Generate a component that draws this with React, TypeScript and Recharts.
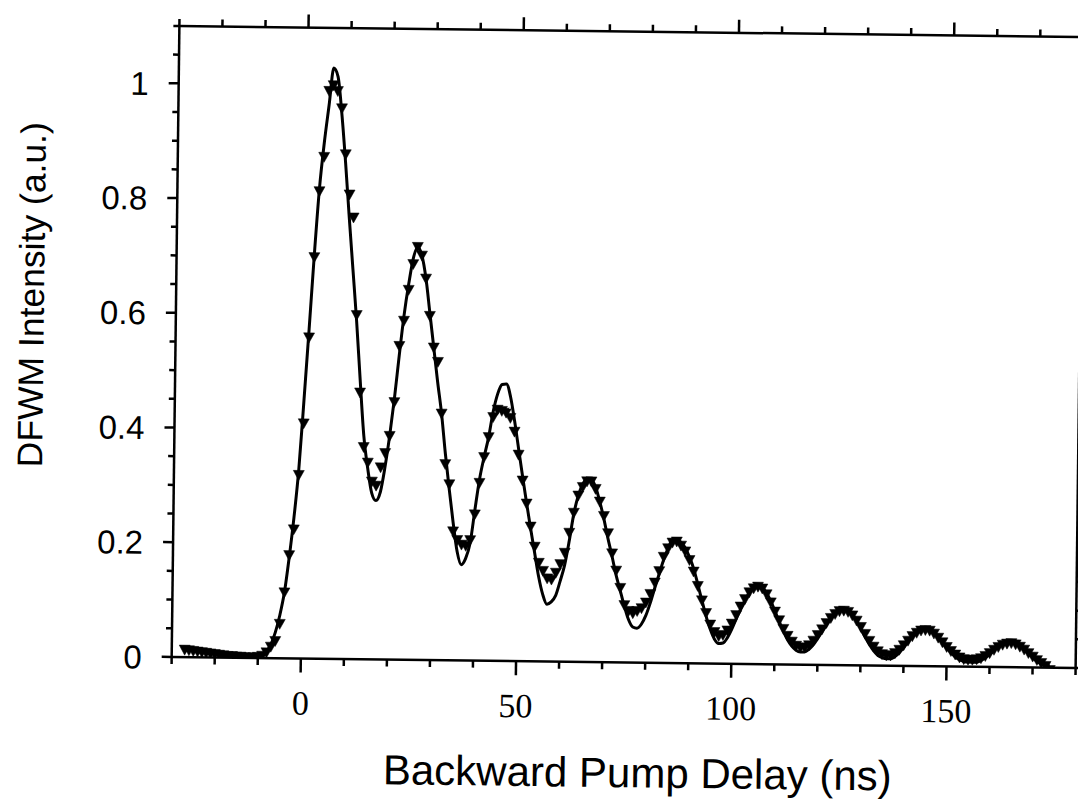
import React from 'react';
import { ComposedChart, Line, Scatter, XAxis, YAxis, Label } from 'recharts';

// ---- axis ticks ----
const X_TICKS = [-30, -20, -10, 0, 10, 20, 30, 40, 50, 60, 70, 80, 90, 100, 110, 120, 130, 140, 150, 160, 170, 180];
const X_LABELS = [0, 50, 100, 150];
const Y_TICKS = [0, 0.05, 0.1, 0.15, 0.2, 0.25, 0.3, 0.35, 0.4, 0.45, 0.5, 0.55, 0.6, 0.65, 0.7, 0.75, 0.8, 0.85, 0.9, 0.95, 1, 1.05, 1.1];
const Y_LABELS = [0, 0.2, 0.4, 0.6, 0.8, 1];

const X_TITLE = 'Backward Pump Delay (ns)';
const Y_TITLE = 'DFWM Intensity (a.u.)';

// ---- fitted curve (solid line): [delay ns, intensity] ----
const FIT: [number, number][] = [
  [-27, 0.013], [-24, 0.010], [-21, 0.007], [-18, 0.005], [-15, 0.004], [-12, 0.003], [-10, 0.003],
  [-9, 0.006], [-8, 0.012], [-7, 0.024], [-6, 0.045], [-5, 0.075], [-4, 0.115], [-3, 0.175], [-2, 0.245],
  [-1, 0.33], [0, 0.45], [1, 0.575], [2, 0.705], [3, 0.82], [4, 0.9], [5, 0.965], [6, 1.03], [7, 1.015],
  [8, 0.95], [9, 0.865], [10, 0.77], [11, 0.68], [12, 0.59], [13, 0.487], [14, 0.39], [15, 0.333],
  [16, 0.29], [17, 0.277], [18, 0.292], [19, 0.335], [20, 0.39], [21, 0.455], [22, 0.53], [23, 0.6],
  [24, 0.655], [25, 0.7], [26, 0.72], [27, 0.705], [28, 0.665], [29, 0.605], [30, 0.545], [31, 0.485],
  [32, 0.43], [33, 0.36], [34, 0.298], [35, 0.24], [36, 0.19], [37, 0.167], [38, 0.178], [39, 0.205],
  [40, 0.262], [41, 0.316], [42, 0.355], [43, 0.39], [44, 0.435], [45, 0.466], [46, 0.482], [47, 0.483],
  [48, 0.46], [49, 0.418], [50, 0.37], [51, 0.322], [52, 0.276], [53, 0.232], [54, 0.19], [55, 0.148],
  [56, 0.117], [57, 0.1], [58, 0.104], [59, 0.115], [60, 0.14], [61, 0.168], [62, 0.21], [63, 0.258],
  [64, 0.29], [65, 0.31], [66, 0.32], [67, 0.318], [68, 0.305], [69, 0.28], [70, 0.25], [71, 0.216],
  [72, 0.185], [73, 0.152], [74, 0.125], [75, 0.098], [76, 0.075], [77, 0.062], [78, 0.06], [79, 0.067],
  [80, 0.082], [81, 0.104], [82, 0.13], [83, 0.155], [84, 0.18], [85, 0.2], [86, 0.215], [87, 0.217],
  [88, 0.21], [89, 0.201], [90, 0.185], [91, 0.165], [92, 0.138], [93, 0.11], [94, 0.083], [95, 0.06],
  [96, 0.043], [97, 0.035], [98, 0.036], [99, 0.045], [100, 0.06], [101, 0.078], [102, 0.095],
  [103, 0.111], [104, 0.125], [105, 0.135], [106, 0.138], [107, 0.134], [108, 0.124], [109, 0.11],
  [110, 0.093], [111, 0.075], [112, 0.058], [113, 0.043], [114, 0.032], [115, 0.025], [116, 0.022],
  [117, 0.022], [118, 0.027], [119, 0.035], [120, 0.046], [121, 0.058], [122, 0.07], [123, 0.081],
  [124, 0.09], [125, 0.096], [126, 0.098], [127, 0.095], [128, 0.088], [129, 0.077], [130, 0.064],
  [131, 0.05], [132, 0.037], [133, 0.026], [134, 0.018], [135, 0.014], [136, 0.012], [137, 0.012],
  [138, 0.016], [139, 0.023], [140, 0.032], [141, 0.042], [142, 0.051], [143, 0.058], [144, 0.063],
  [145, 0.065], [146, 0.063], [147, 0.058], [148, 0.05], [149, 0.041], [150, 0.032], [151, 0.024],
  [152, 0.017], [153, 0.012], [154, 0.009], [155, 0.008], [156, 0.008], [157, 0.008], [158, 0.011],
  [159, 0.016], [160, 0.022], [161, 0.029], [162, 0.035], [163, 0.04], [164, 0.043], [165, 0.043],
  [166, 0.041], [167, 0.037], [168, 0.031], [169, 0.024], [170, 0.017], [171, 0.011], [172, 0.007],
  [173, 0.004], [174, 0.003],
];

// ---- measured points (down triangles): [delay ns, intensity] ----
const MEASURED: [number, number][] = [
  [-27, 0.013], [-26, 0.012], [-25, 0.011], [-24, 0.010], [-23, 0.009], [-22, 0.008], [-21, 0.007],
  [-20, 0.006], [-19, 0.005], [-18, 0.004], [-17, 0.003], [-16, 0.003], [-15, 0.002], [-14, 0.002],
  [-13, 0.001], [-12, 0.001], [-11, 0.001], [-10, 0.002], [-9, 0.004], [-8, 0.01], [-7, 0.02],
  [-6, 0.03], [-5, 0.06], [-4, 0.115], [-3, 0.18], [-2, 0.225], [-1, 0.32], [0, 0.41], [1, 0.56],
  [2, 0.7], [3, 0.815], [4, 0.875], [5, 0.99], [6, 1.0], [7, 0.99], [8, 0.96], [9, 0.88], [10, 0.81],
  [11, 0.77], [12, 0.6], [13, 0.465], [14, 0.37], [15, 0.343], [16, 0.31], [17, 0.303], [18, 0.335],
  [19, 0.36], [20, 0.39], [21, 0.449], [22, 0.547], [23, 0.591], [24, 0.645], [25, 0.69], [26, 0.72],
  [27, 0.705], [28, 0.665], [29, 0.6], [30, 0.545], [31, 0.52], [32, 0.43], [33, 0.342], [34, 0.307],
  [35, 0.225], [36, 0.21], [37, 0.202], [38, 0.2], [39, 0.21], [40, 0.255], [41, 0.31], [42, 0.355],
  [43, 0.39], [44, 0.425], [45, 0.438], [46, 0.436], [47, 0.433], [48, 0.424], [49, 0.4], [50, 0.36],
  [51, 0.315], [52, 0.275], [53, 0.235], [54, 0.2], [55, 0.172], [56, 0.158], [57, 0.145], [58, 0.143],
  [59, 0.155], [60, 0.17], [61, 0.19], [62, 0.225], [63, 0.26], [64, 0.29], [65, 0.305], [66, 0.315],
  [67, 0.315], [68, 0.302], [69, 0.28], [70, 0.255], [71, 0.225], [72, 0.19], [73, 0.16], [74, 0.13],
  [75, 0.1], [76, 0.09], [77, 0.086], [78, 0.09], [79, 0.095], [80, 0.105], [81, 0.12], [82, 0.14],
  [83, 0.16], [84, 0.185], [85, 0.2], [86, 0.21], [87, 0.212], [88, 0.205], [89, 0.195], [90, 0.18],
  [91, 0.16], [92, 0.135], [93, 0.11], [94, 0.088], [95, 0.068], [96, 0.055], [97, 0.048], [98, 0.05],
  [99, 0.058], [100, 0.07], [101, 0.085], [102, 0.1], [103, 0.113], [104, 0.125], [105, 0.132],
  [106, 0.135], [107, 0.132], [108, 0.122], [109, 0.108], [110, 0.092], [111, 0.077], [112, 0.062],
  [113, 0.05], [114, 0.04], [115, 0.033], [116, 0.03], [117, 0.03], [118, 0.034], [119, 0.042],
  [120, 0.052], [121, 0.062], [122, 0.073], [123, 0.082], [124, 0.089], [125, 0.094], [126, 0.095],
  [127, 0.093], [128, 0.087], [129, 0.078], [130, 0.067], [131, 0.055], [132, 0.043], [133, 0.033],
  [134, 0.025], [135, 0.02], [136, 0.018], [137, 0.018], [138, 0.022], [139, 0.028], [140, 0.036],
  [141, 0.044], [142, 0.052], [143, 0.058], [144, 0.062], [145, 0.063], [146, 0.062], [147, 0.057],
  [148, 0.05], [149, 0.042], [150, 0.034], [151, 0.027], [152, 0.021], [153, 0.016], [154, 0.013],
  [155, 0.012], [156, 0.012], [157, 0.013], [158, 0.015], [159, 0.019], [160, 0.024], [161, 0.03],
  [162, 0.035], [163, 0.039], [164, 0.041], [165, 0.042], [166, 0.04], [167, 0.036], [168, 0.031],
  [169, 0.025], [170, 0.019], [171, 0.013], [172, 0.008], [173, 0.003], [174, -0.004],
];

const fitData = FIT.map(([x, y]) => ({ x, y }));
const pointData = MEASURED.map(([x, y]) => ({ x, y }));

const SANS = "'Liberation Sans', Arial, Helvetica, sans-serif";
const SERIF = "'Liberation Serif', 'Times New Roman', serif";
const AXIS_STROKE = { stroke: '#000', strokeWidth: 2.5 };

const isIn = (arr: number[], v: number) => arr.some((a) => Math.abs(a - v) < 1e-9);

const BottomTick = (props: any) => {
  const { x, y, payload } = props;
  const major = isIn(X_LABELS, payload.value);
  return (
    <g>
      <line x1={x} y1={y} x2={x} y2={y + (major ? 14 : 7)} stroke="#000" strokeWidth={2.5} />
      {major && (
        <text x={x} y={y + 56} textAnchor="middle" fontFamily={SERIF} fontSize={34} fill="#000">
          {payload.value}
        </text>
      )}
    </g>
  );
};

const TopTick = (props: any) => {
  const { x, y, payload } = props;
  const major = isIn(X_LABELS, payload.value);
  return <line x1={x} y1={y} x2={x} y2={y - (major ? 13 : 7)} stroke="#000" strokeWidth={2.5} />;
};

const LeftTick = (props: any) => {
  const { x, y, payload } = props;
  const major = isIn(Y_LABELS, payload.value);
  return (
    <g>
      <line x1={x} y1={y} x2={x - (major ? 10 : 6)} y2={y} stroke="#000" strokeWidth={2.5} />
      {major && (
        <text x={x - 30} y={y} dy="0.36em" textAnchor="end" fontFamily={SANS} fontSize={33} fill="#000">
          {String(payload.value)}
        </text>
      )}
    </g>
  );
};

const RightTick = (props: any) => {
  const { x, y, payload } = props;
  const major = isIn(Y_LABELS, payload.value);
  return <line x1={x} y1={y} x2={x + (major ? 10 : 6)} y2={y} stroke="#000" strokeWidth={2.5} />;
};

const TriangleDown = (props: any) => {
  const { cx, cy } = props;
  if (cx == null || cy == null) return <g />;
  return (
    <polygon
      points={`${cx - 5.5},${cy - 4.5} ${cx + 5.5},${cy - 4.5} ${cx},${cy + 5.5}`}
      fill="#000"
      stroke="#000"
      strokeWidth={0.5}
    />
  );
};

export default function App() {
  return (
    <div style={{ width: 1078, height: 798, overflow: 'hidden' }}>
      <div
        style={{
          width: 1078,
          height: 798,
          transform: 'rotate(0.7deg)',
          transformOrigin: '619.5px 339px',
        }}
      >
        <ComposedChart
          width={1078}
          height={798}
          margin={{ top: 22.5, right: 5.5, bottom: 0, left: 0 }}
          style={{ background: '#fff' }}
        >
          <XAxis
            xAxisId="b"
            dataKey="x"
            type="number"
            domain={[-30, 180]}
            ticks={X_TICKS}
            interval={0}
            allowDataOverflow
            orientation="bottom"
            height={143.5}
            axisLine={AXIS_STROKE}
            tickLine={false}
            tickSize={0}
            tickMargin={0}
            tick={<BottomTick />}
          >
            <Label
              content={(p: any) => {
                const vb = p.viewBox || { x: 0, y: 0, width: 0 };
                return (
                  <text
                    x={vb.x + vb.width / 2 + 15}
                    y={vb.y + 110}
                    dy="0.35em"
                    textAnchor="middle"
                    fontFamily={SANS}
                    fontSize={42}
                    fill="#000"
                  >
                    {X_TITLE}
                  </text>
                );
              }}
            />
          </XAxis>
          <XAxis
            xAxisId="t"
            dataKey="x"
            type="number"
            domain={[-30, 180]}
            ticks={X_TICKS}
            interval={0}
            allowDataOverflow
            orientation="top"
            height={1}
            axisLine={AXIS_STROKE}
            tickLine={false}
            tickSize={0}
            tickMargin={0}
            tick={<TopTick />}
          />
          <YAxis
            yAxisId="l"
            dataKey="y"
            type="number"
            domain={[0, 1.1]}
            ticks={Y_TICKS}
            interval={0}
            allowDataOverflow
            orientation="left"
            width={167.5}
            axisLine={AXIS_STROKE}
            tickLine={false}
            tickSize={0}
            tickMargin={0}
            tick={<LeftTick />}
          >
            <Label
              content={(p: any) => {
                const vb = p.viewBox || { x: 0, y: 0, height: 0 };
                const cx = vb.x + 23;
                const cy = vb.y + vb.height / 2 - 45;
                return (
                  <text
                    x={cx}
                    y={cy}
                    dy="0.35em"
                    textAnchor="middle"
                    transform={`rotate(-90, ${cx}, ${cy})`}
                    fontFamily={SANS}
                    fontSize={35.5}
                    fill="#000"
                  >
                    {Y_TITLE}
                  </text>
                );
              }}
            />
          </YAxis>
          <YAxis
            yAxisId="r"
            dataKey="y"
            type="number"
            domain={[0, 1.1]}
            ticks={Y_TICKS}
            interval={0}
            allowDataOverflow
            orientation="right"
            width={1}
            axisLine={AXIS_STROKE}
            tickLine={false}
            tickSize={0}
            tickMargin={0}
            tick={<RightTick />}
          />
          {/* invisible copy of the fit bound to the mirror (top/right) axes so they get a scale */}
          <Line
            xAxisId="t"
            yAxisId="r"
            data={fitData}
            dataKey="y"
            type="monotone"
            stroke="none"
            strokeWidth={0}
            dot={false}
            activeDot={false}
            legendType="none"
            isAnimationActive={false}
          />
          <Line
            xAxisId="b"
            yAxisId="l"
            data={fitData}
            dataKey="y"
            type="monotone"
            stroke="#000"
            strokeWidth={3}
            dot={false}
            activeDot={false}
            isAnimationActive={false}
          />
          <Scatter
            xAxisId="b"
            yAxisId="l"
            data={pointData}
            dataKey="y"
            shape={TriangleDown}
            isAnimationActive={false}
          />
        </ComposedChart>
      </div>
    </div>
  );
}
